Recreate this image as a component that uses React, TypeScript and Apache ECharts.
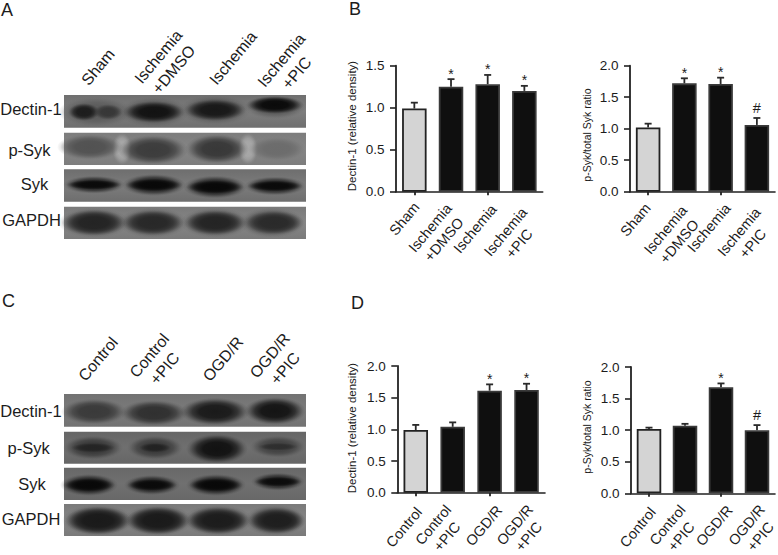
import React, { useEffect, useRef } from "react";
import * as echarts from "echarts";

const FONT = '"Liberation Sans", Arial, sans-serif';
const INK = "#1c1c1c";

// ---- chart data ----
const ischemiaCats = ["Sham", "Ischemia\n+DMSO", "Ischemia", "Ischemia\n+PIC"];
const ogdCats = ["Control", "Control\n+PIC", "OGD/R", "OGD/R\n+PIC"];

const ischemiaDectin = [0.99, 1.25, 1.28, 1.2];
const ischemiaDectinErr = [1.06, 1.34, 1.39, 1.26];
const ischemiaDectinMarks = ["", "*", "*", "*"];

const ischemiaSyk = [1.02, 1.72, 1.71, 1.06];
const ischemiaSykErr = [1.08, 1.8, 1.81, 1.17];
const ischemiaSykMarks = ["", "*", "*", "#"];

const ogdDectin = [0.99, 1.04, 1.61, 1.62];
const ogdDectinErr = [1.07, 1.11, 1.71, 1.72];
const ogdDectinMarks = ["", "", "*", "*"];

const ogdSyk = [1.02, 1.07, 1.68, 1.0];
const ogdSykErr = [1.04, 1.1, 1.74, 1.08];
const ogdSykMarks = ["", "", "*", "#"];

const dectinTitle = "Dectin-1 (relative density)";
const sykTitle = "p-Syk/total Syk ratio";

// ---- layout of the panels ----
const panels = [
  { cats: ischemiaCats, vals: ischemiaDectin, err: ischemiaDectinErr, marks: ischemiaDectinMarks, name: dectinTitle, max: 1.5,
    box: [396, 65.7, 146.7, 126], offs: [[-10, 27], [-14, 42], [-12.7, 37], [-12, 46]], title: [352, 126] },
  { cats: ischemiaCats, vals: ischemiaSyk, err: ischemiaSykErr, marks: ischemiaSykMarks, name: sykTitle, max: 2,
    box: [630, 65.7, 145, 126], offs: [[-12.7, 28], [-12, 44], [-11.7, 36], [-11, 46]], title: [587, 135] },
  { cats: ogdCats, vals: ogdDectin, err: ogdDectinErr, marks: ogdDectinMarks, name: dectinTitle, max: 2,
    box: [397.3, 366, 147.7, 126.7], offs: [[-11.7, 34.6], [-12.7, 38], [-5.7, 33], [-4.7, 38]], title: [352, 428] },
  { cats: ogdCats, vals: ogdSyk, err: ogdSykErr, marks: ogdSykMarks, name: sykTitle, max: 2,
    box: [631, 367, 144, 126.3], offs: [[-11.3, 34], [-10.7, 37.5], [-6.7, 32.4], [-3.4, 37.5]], title: [587, 427] },
];

// ---- blots: [centre x, centre y, radius x, radius y, grey] ----
type Band = number[];
type Blot = { y: number; h: number; base: string; edge: string; bands: Band[] };
const blots: Blot[] = [
  { y: 95, h: 32.7, base: "#7e7e7e", edge: "#6f6f6f", bands: [
    [96, 112, 38, 15, 92], [154, 112, 36, 15, 88], [215, 110, 36, 15, 88], [275, 105, 34, 14, 90],
    [84, 112, 16, 9, 28], [108, 112, 15, 8, 55], [154, 112, 31, 11, 18], [215, 110, 31, 11, 24], [275, 105, 29, 9, 10] ] },
  { y: 132.7, h: 32.3, base: "#858585", edge: "#7d7d7d", bands: [
    [122, 149, 10, 24, 168], [248, 149, 10, 24, 168],
    [90, 147, 33, 13, 82], [153, 150, 35, 15, 60], [217, 149, 32, 15, 56], [277, 149, 29, 12, 108] ] },
  { y: 169.3, h: 32.4, base: "#7c7c7c", edge: "#6e6e6e", bands: [
    [94, 184.7, 31, 9, 40], [154, 185, 32, 11, 36], [215, 187, 32, 11.5, 36], [275, 186, 31, 9.5, 40],
    [94, 184.7, 28, 5, 10], [154, 185, 29, 6.5, 8], [215, 187, 29, 7, 8], [275, 186, 28, 5.5, 10] ] },
  { y: 206.7, h: 32.3, base: "#868686", edge: "#7a7a7a", bands: [
    [94, 222.7, 36, 15, 80], [153, 222.7, 35, 15, 80], [215, 222.7, 35, 15, 80], [272, 222.7, 33, 15, 80],
    [94, 222.7, 32, 13, 36], [153, 222.7, 31, 12.5, 40], [215, 222.7, 31, 12.5, 36], [274, 222.7, 30, 12, 42] ] },
  { y: 394, h: 32.7, base: "#7b7b7b", edge: "#727272", bands: [
    [94, 411.7, 33, 13, 58], [154, 413, 34, 13, 48], [215, 411.7, 35, 14, 26], [275, 411, 31, 14, 20] ] },
  { y: 431.7, h: 32, base: "#6f6f6f", edge: "#666666", bands: [
    [93, 447.7, 30, 12, 58], [155, 447.7, 28, 12, 60], [217, 449, 31, 15, 18], [278, 446.7, 28, 11, 66],
    [93, 447.7, 22, 5, 36], [155, 447.7, 16, 5, 34], [278, 446.7, 20, 4, 46] ] },
  { y: 467.7, h: 32.3, base: "#707070", edge: "#686868", bands: [
    [89, 485, 29, 11, 32], [152, 485, 28, 10, 36], [216, 485, 30, 11, 32], [278, 481.7, 27, 9, 40],
    [89, 485, 26, 7, 8], [152, 485, 25, 6, 10], [216, 485, 27, 7, 8], [278, 481.7, 24, 5, 12] ] },
  { y: 504, h: 32, base: "#868686", edge: "#7a7a7a", bands: [
    [98, 520.7, 36, 16, 68], [158, 520.7, 35, 16, 68], [218, 520.7, 35, 16, 68], [275, 520.7, 31, 16, 70],
    [98, 520.7, 33, 14, 26], [158, 520.7, 32, 14, 26], [218, 520.7, 32, 13.5, 28], [277, 520.7, 29, 13, 30] ] },
];
const blotX = 64;
const blotW = 242;

const blotRowLabels = [
  ["Dectin-1", 31, 108.7], ["p-Syk", 29.5, 150], ["Syk", 34.5, 184], ["GAPDH", 31.6, 220],
  ["Dectin-1", 31, 410.7], ["p-Syk", 28.7, 448.3], ["Syk", 32, 484], ["GAPDH", 31, 519],
];
const blotLaneLabels = [
  ["Sham", 98, 67], ["Ischemia\n+DMSO", 166, 63], ["Ischemia", 233, 58], ["Ischemia\n+PIC", 289, 66.5],
  ["Control", 98, 359], ["Control\n+PIC", 157, 362], ["OGD/R", 223, 359], ["OGD/R\n+PIC", 277.5, 362],
];
const panelLetters = [["A", 1, 10], ["B", 349, 9], ["C", 2, 301], ["D", 351, 303]];

const LABEL_ANGLE = (50 * Math.PI) / 180;

function grey(v: number, a: number) {
  return `rgba(${v},${v},${v},${a})`;
}

function blotGraphics() {
  const out: any[] = [];
  blots.forEach((b) => {
    out.push({
      type: "rect",
      silent: true,
      shape: { x: blotX, y: b.y, width: blotW, height: b.h },
      style: {
        fill: {
          type: "linear", x: 0, y: 0, x2: 0, y2: 1,
          colorStops: [
            { offset: 0, color: b.edge }, { offset: 0.5, color: b.base }, { offset: 1, color: b.edge },
          ],
        },
      },
    });
    b.bands.forEach(([cx, cy, rx, ry, v]) => {
      // keep the soft band inside its own blot strip
      const top = Math.max(cy - ry, b.y);
      const bottom = Math.min(cy + ry, b.y + b.h);
      out.push({
        type: "ellipse",
        silent: true,
        shape: { cx, cy: (top + bottom) / 2, rx: Math.min(rx, blotX + blotW - cx), ry: (bottom - top) / 2 },
        style: {
          fill: {
            type: "radial", x: 0.5, y: 0.5, r: 0.5,
            colorStops: [
              { offset: 0, color: grey(v, 1) },
              { offset: 0.45, color: grey(v, 0.96) },
              { offset: 0.65, color: grey(v, 0.72) },
              { offset: 0.8, color: grey(v, 0.36) },
              { offset: 0.9, color: grey(v, 0.12) },
              { offset: 1, color: grey(v, 0) },
            ],
          },
        },
      });
    });
  });
  blotRowLabels.forEach(([text, x, y]) => {
    out.push({
      type: "text", x, y, silent: true,
      style: { text, fill: INK, font: `16.5px ${FONT}`, align: "center", verticalAlign: "middle" },
    });
  });
  blotLaneLabels.forEach(([text, x, y]) => {
    out.push({
      type: "text", x, y, rotation: LABEL_ANGLE, silent: true,
      style: { text, fill: INK, font: `16px ${FONT}`, lineHeight: 20, align: "center", verticalAlign: "middle" },
    });
  });
  panelLetters.forEach(([text, x, y]) => {
    out.push({
      type: "text", x, y, silent: true,
      style: { text, fill: INK, font: `18px ${FONT}`, align: "left", verticalAlign: "middle" },
    });
  });
  panels.forEach((p) => {
    out.push({
      type: "text", x: p.title[0], y: p.title[1], rotation: Math.PI / 2, silent: true,
      style: {
        text: p.name, fill: INK, font: `${p.name === dectinTitle ? 11.5 : 10.5}px ${FONT}`,
        align: "center", verticalAlign: "middle",
      },
    });
  });
  return out;
}

function buildOption() {
  const grid: any[] = [];
  const xAxis: any[] = [];
  const yAxis: any[] = [];
  const series: any[] = [];
  panels.forEach((p, i) => {
    const [left, top, width, height] = p.box;
    grid.push({ left, top, width, height, containLabel: false, outerBoundsMode: "none" });
    xAxis.push({
      type: "category",
      gridIndex: i,
      data: p.cats,
      axisLine: { lineStyle: { color: "#222", width: 1.6 } },
      axisTick: { show: true, alignWithLabel: true, length: 3.5, lineStyle: { color: "#222", width: 1.8 } },
      axisLabel: { show: false },
      splitLine: { show: false },
    });
    yAxis.push({
      type: "value",
      gridIndex: i,
      min: 0,
      max: p.max,
      interval: 0.5,
      axisLine: { show: true, onZero: false, lineStyle: { color: "#222", width: 1.8 } },
      axisTick: { show: true, length: 6, lineStyle: { color: "#222", width: 1.6 } },
      axisLabel: { margin: 11.5, color: INK, fontFamily: FONT, fontSize: 13.5, formatter: (v: number) => v.toFixed(1) },
      splitLine: { show: false },
    });
    series.push({
      type: "bar",
      xAxisIndex: i,
      yAxisIndex: i,
      barWidth: 24.5,
      silent: true,
      data: p.vals.map((v, k) => ({
        value: v,
        itemStyle: { color: k === 0 ? "#d4d4d4" : "#0f0f0f", borderColor: k === 0 ? "#222" : "#3a3a3a", borderWidth: 1.8 },
      })),
    });
    series.push({
      type: "custom",
      xAxisIndex: i,
      yAxisIndex: i,
      silent: true,
      clip: false,
      encode: { x: 0, y: 2 },
      data: p.vals.map((v, k) => [k, v, p.err[k], k]),
      renderItem: (_: any, api: any) => {
        const k = api.value(0);
        const base = api.coord([k, api.value(1)]);
        const end = api.coord([k, api.value(2)]);
        const zero = api.coord([k, 0]);
        const idx = api.value(3);
        const lineStyle = { stroke: "#2a2a2a", lineWidth: 1.8, fill: "none" };
        const children: any[] = [
          { type: "line", shape: { x1: base[0], y1: base[1], x2: end[0], y2: end[1] }, style: lineStyle },
          { type: "line", shape: { x1: end[0] - 3.5, y1: end[1], x2: end[0] + 3.5, y2: end[1] }, style: lineStyle },
          {
            type: "text",
            x: zero[0] + p.offs[idx][0],
            y: zero[1] + p.offs[idx][1],
            rotation: LABEL_ANGLE,
            style: { text: p.cats[idx], fill: INK, font: `14.5px ${FONT}`, lineHeight: 18, align: "center", verticalAlign: "middle" },
          },
        ];
        const mark = p.marks[idx];
        if (mark) {
          children.push({
            type: "text",
            x: end[0],
            y: mark === "#" ? end[1] - 10 : end[1] - 5.5,
            style: { text: mark, fill: INK, font: `${mark === "#" ? 14.5 : 14}px ${FONT}`, align: "center", verticalAlign: "middle" },
          });
        }
        return { type: "group", children };
      },
    });
  });
  return {
    animation: false,
    backgroundColor: "#ffffff",
    grid,
    xAxis,
    yAxis,
    series,
    graphic: { elements: blotGraphics() },
  };
}

export default function App() {
  const ref = useRef<HTMLDivElement>(null);
  useEffect(() => {
    const chart = echarts.init(ref.current!, undefined, { renderer: "svg" });
    chart.setOption(buildOption() as any);
    return () => chart.dispose();
  }, []);
  return <div ref={ref} style={{ position: "absolute", left: 0, top: 0, width: 778, height: 555 }} />;
}
